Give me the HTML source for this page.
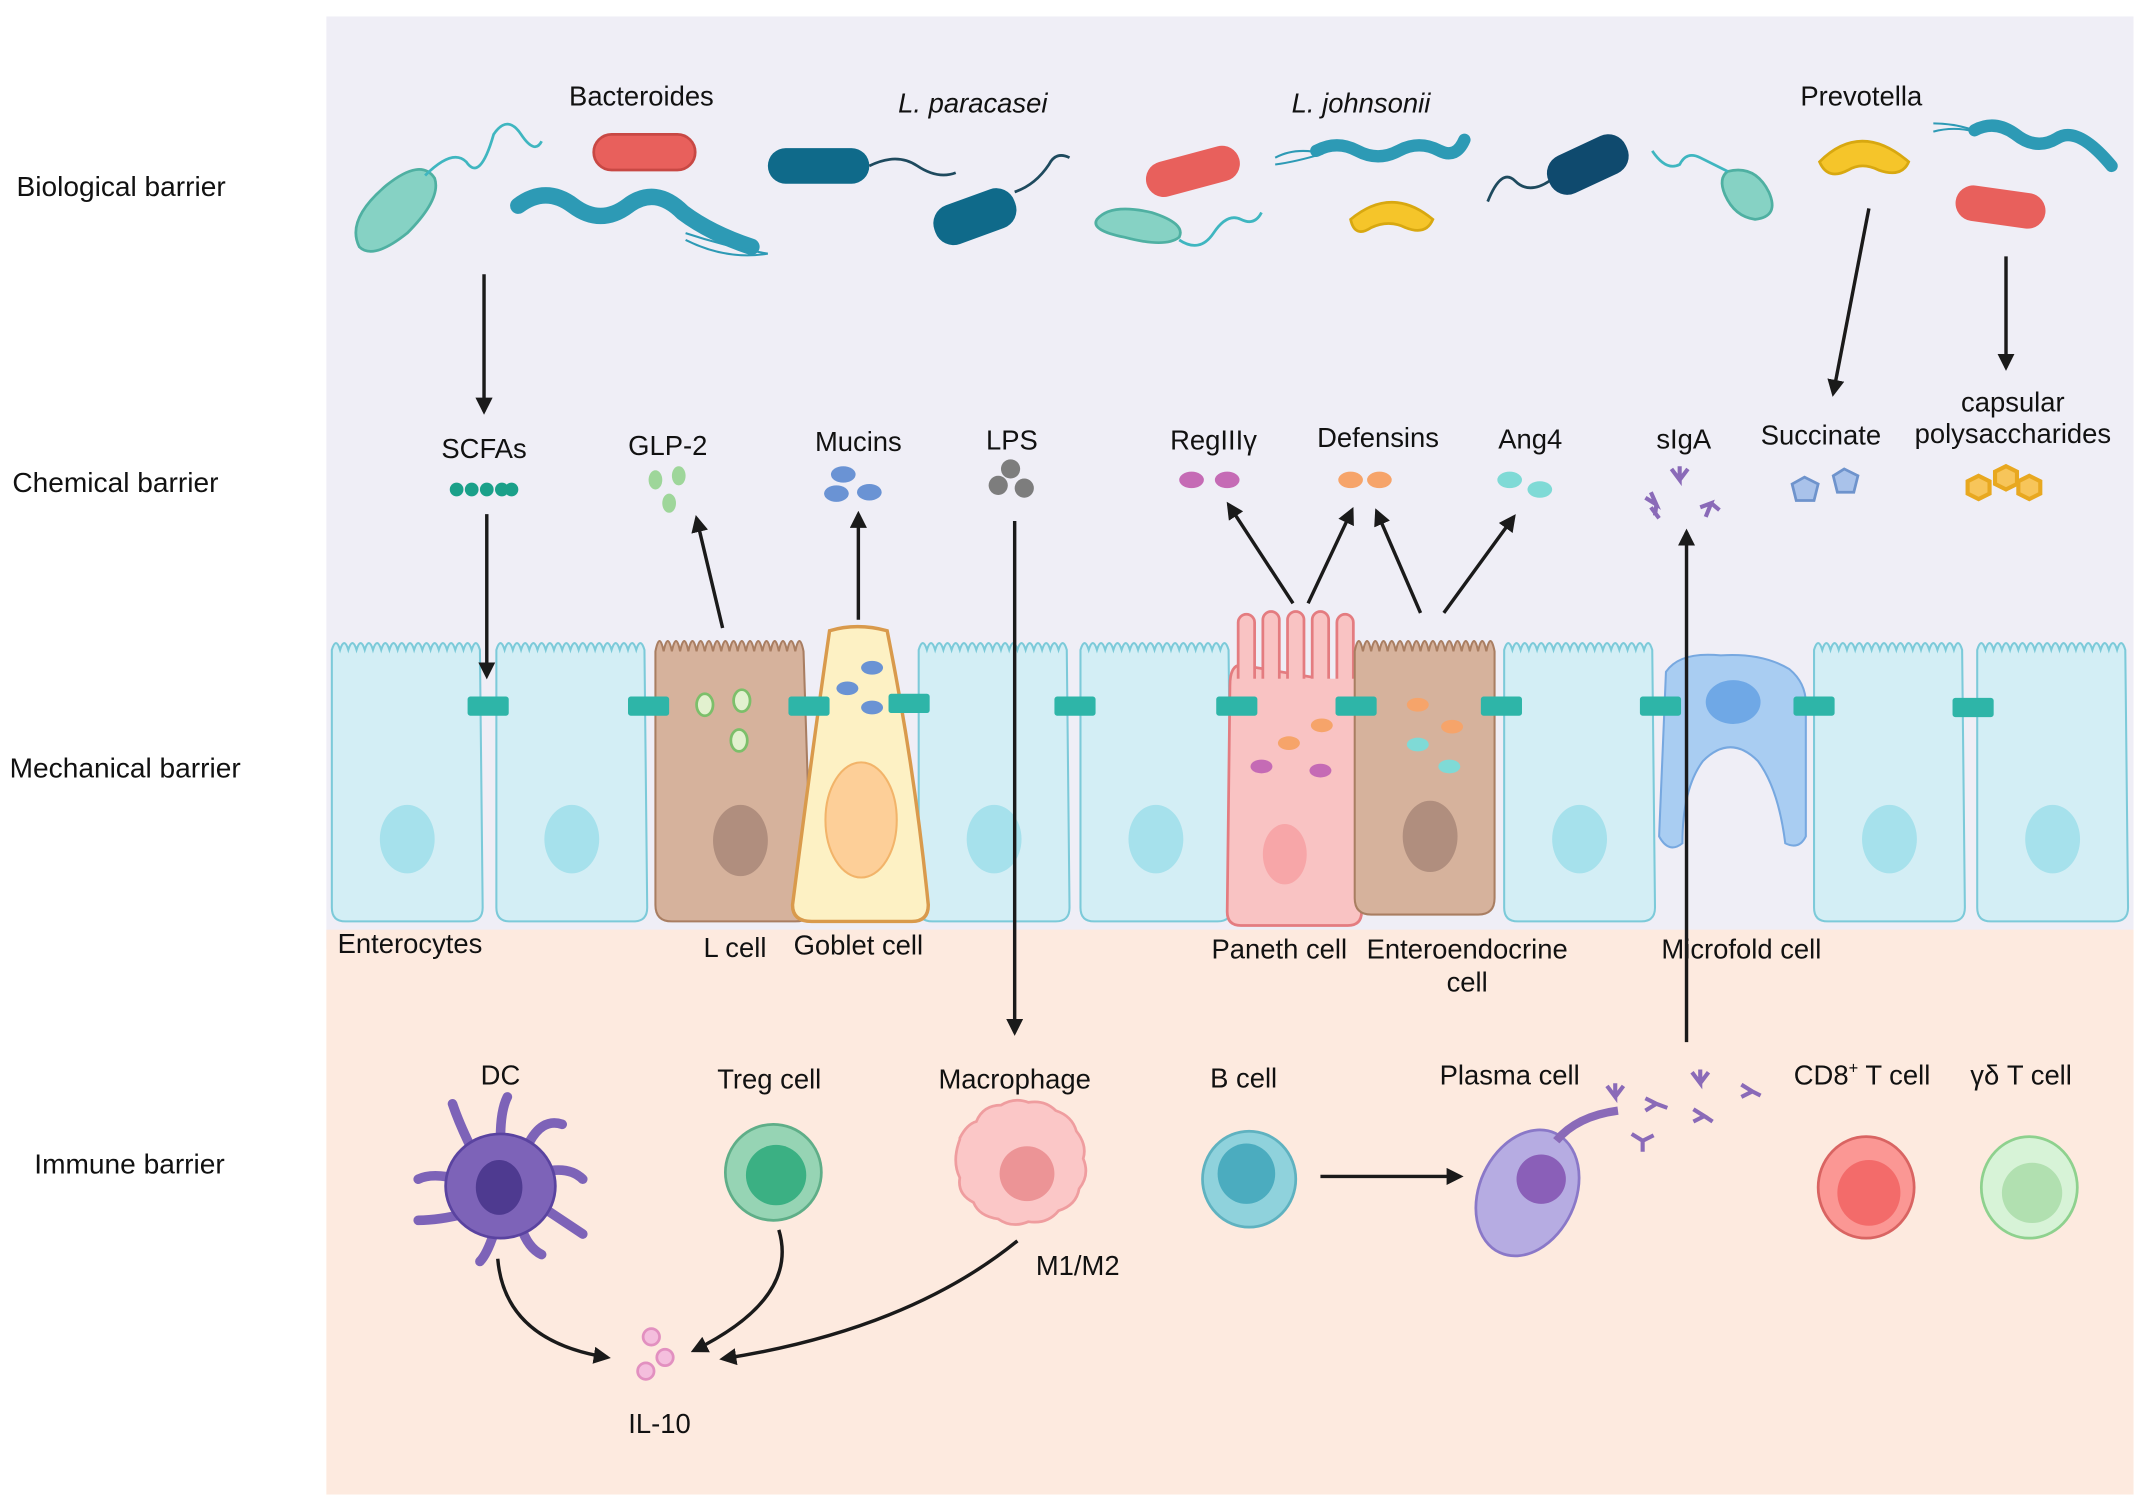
<!DOCTYPE html>
<html><head><meta charset="utf-8"><style>
html,body{margin:0;padding:0;background:#fff}
svg{display:block}
text{font-family:"Liberation Sans",sans-serif;fill:#111}
</style></head><body>
<svg width="2150" height="1511" viewBox="0 0 1568 1102" xmlns="http://www.w3.org/2000/svg">
<defs>
<marker id="ah" viewBox="0 0 10 10" refX="8" refY="5" markerWidth="5" markerHeight="5" orient="auto"><path d="M0,0L10,5L0,10z" fill="#1a1a1a"/></marker>
<g id="ent"><path d="M0,12 q3,-10 6,0 q3,-10 6,0 q3,-10 6,0 q3,-10 6,0 q3,-10 6,0 q3,-10 6,0 q3,-10 6,0 q3,-10 6,0 q3,-10 6,0 q3,-10 6,0 q3,-10 6,0 q3,-10 6,0 q3,-10 6,0 q3,-10 6,0 q3,-10 6,0 q3,-10 6,0 q3,-10 6,0 q3,-10 6,0 L110,200 q0,10 -10,10 L10,210 q-10,0 -10,-10z" fill="#d3eef5" stroke="#7ccad9" stroke-width="1.5"/><ellipse cx="55" cy="150" rx="20" ry="25" fill="#a6e1ec"/></g>
<g id="tj"><rect x="0" y="0" width="30" height="14" rx="2" fill="#2eb5a8"/></g>
</defs>
<rect x="0" y="0" width="1568" height="1102" fill="#fff"/>
<rect x="238" y="12" width="1318" height="680" fill="#efeef6"/>
<rect x="238" y="678" width="1318" height="412" fill="#fdeadf"/>

<g font-size="20.5">
<text x="12" y="143">Biological barrier</text>
<text x="9" y="359">Chemical barrier</text>
<text x="7" y="567">Mechanical barrier</text>
<text x="25" y="856">Immune barrier</text>
</g>

<!-- bacteria -->
<g>
<path d="M262,180 q-10,-20 20,-45 q25,-20 35,-5 q5,15 -20,40 q-25,20 -35,10z" fill="#86d2c4" stroke="#4fb0a2" stroke-width="2"/>
<path d="M310,128 q20,-20 30,-10 q10,15 20,-20 q10,-15 20,0 q10,15 15,5" fill="none" stroke="#3fb6c0" stroke-width="2"/>
<rect x="433" y="98" width="74" height="26" rx="13" fill="#e8605c" stroke="#c84844" stroke-width="2"/>
<path d="M378,150 q20,-15 40,0 q20,15 40,0 q20,-15 40,5 q20,15 50,25" fill="none" stroke="#2d9ab5" stroke-width="12" stroke-linecap="round"/>
<path d="M500,170 q30,10 60,15 M500,175 q30,15 60,10" fill="none" stroke="#2d9ab5" stroke-width="1.5"/>
<rect x="560" y="108" width="74" height="26" rx="13" fill="#0f6a8a"/>
<path d="M634,121 q20,-10 35,0 q15,10 28,5" fill="none" stroke="#1e4a5e" stroke-width="2"/>
<rect x="680" y="143" width="62" height="30" rx="14" fill="#0f6a8a" transform="rotate(-20 711 158)"/>
<path d="M740,140 q15,-5 25,-20 q5,-10 15,-5" fill="none" stroke="#1e4a5e" stroke-width="2"/>
<rect x="835" y="112" width="70" height="26" rx="13" fill="#e8605c" transform="rotate(-15 870 125)"/>
<path d="M800,160 q10,-12 40,-5 q25,8 20,18 q-10,8 -40,0 q-25,-5 -20,-13z" fill="#86d2c4" stroke="#4fb0a2" stroke-width="2"/>
<path d="M860,175 q15,10 25,-5 q10,-15 20,-10 q10,5 15,-5" fill="none" stroke="#3fb6c0" stroke-width="2"/>
<path d="M960,110 q15,-8 30,0 q15,8 30,0 q15,-8 30,0 q12,6 18,-8" fill="none" stroke="#2d9ab5" stroke-width="9" stroke-linecap="round"/>
<path d="M930,115 q15,-8 35,-3 M930,120 q15,-2 35,-8" fill="none" stroke="#2d9ab5" stroke-width="1.5"/>
<path d="M985,160 q30,-25 60,0 q-5,12 -20,6 q-12,-6 -25,0 q-12,8 -15,-6z" fill="#f5c52a" stroke="#d8a810" stroke-width="2"/>
<rect x="1127" y="105" width="62" height="30" rx="14" fill="#0f4a6e" transform="rotate(-25 1158 120)"/>
<path d="M1130,132 q-15,10 -25,0 q-10,-10 -20,15" fill="none" stroke="#1e4a5e" stroke-width="2"/>
<path d="M1260,125 q20,-5 30,15 q8,18 -10,20 q-15,-2 -22,-18 q-5,-12 2,-17z" fill="#86d2c4" stroke="#4fb0a2" stroke-width="2"/>
<path d="M1260,125 q-10,-5 -20,-10 q-10,-5 -15,5 q-10,5 -20,-10" fill="none" stroke="#3fb6c0" stroke-width="2"/>
<path d="M1327,118 q30,-30 65,0 q-5,12 -22,6 q-12,-6 -22,0 q-15,8 -21,-6z" fill="#f5c52a" stroke="#d8a810" stroke-width="2"/>
<path d="M1440,95 q15,-8 30,3 q15,12 30,3 q15,-10 40,20" fill="none" stroke="#2d9ab5" stroke-width="9" stroke-linecap="round"/>
<path d="M1410,90 q15,0 30,5 M1410,96 q15,-4 30,0" fill="none" stroke="#2d9ab5" stroke-width="1.5"/>
<rect x="1426" y="138" width="66" height="26" rx="13" fill="#e8605c" transform="rotate(8 1459 151)"/>
</g>
<g font-size="20">
<text x="415" y="77">Bacteroides</text>
<text x="655" y="82" font-style="italic">L. paracasei</text>
<text x="942" y="82" font-style="italic">L. johnsonii</text>
<text x="1313" y="77">Prevotella</text>
</g>

<!-- chemical -->
<g font-size="20" text-anchor="middle">
<text x="353" y="334">SCFAs</text>
<text x="487" y="332">GLP-2</text>
<text x="626" y="329">Mucins</text>
<text x="738" y="328">LPS</text>
<text x="885" y="328">RegIIIγ</text>
<text x="1005" y="326">Defensins</text>
<text x="1116" y="327">Ang4</text>
<text x="1228" y="327">sIgA</text>
<text x="1328" y="324">Succinate</text>
<text x="1468" y="300">capsular</text>
<text x="1468" y="323">polysaccharides</text>
</g>
<g fill="#1aa089"><circle cx="333" cy="357" r="5"/><circle cx="344" cy="357" r="5"/><circle cx="355" cy="357" r="5"/><circle cx="366" cy="357" r="5"/><circle cx="373" cy="357" r="5"/></g>
<g fill="#9ed69a"><ellipse cx="478" cy="350" rx="5" ry="7"/><ellipse cx="495" cy="347" rx="5" ry="7"/><ellipse cx="488" cy="367" rx="5" ry="7"/></g>
<g fill="#6a93d4"><ellipse cx="615" cy="346" rx="9" ry="6"/><ellipse cx="610" cy="360" rx="9" ry="6"/><ellipse cx="634" cy="359" rx="9" ry="6"/></g>
<g fill="#7d7d7d"><circle cx="737" cy="342" r="7"/><circle cx="728" cy="354" r="7"/><circle cx="747" cy="356" r="7"/></g>
<g fill="#c56bb5"><ellipse cx="869" cy="350" rx="9" ry="6"/><ellipse cx="895" cy="350" rx="9" ry="6"/></g>
<g fill="#f6a46a"><ellipse cx="985" cy="350" rx="9" ry="6"/><ellipse cx="1006" cy="350" rx="9" ry="6"/></g>
<g fill="#7fdad6"><ellipse cx="1101" cy="350" rx="9" ry="6"/><ellipse cx="1123" cy="357" rx="9" ry="6"/></g>
<g stroke="#8a6ab8" stroke-width="3" fill="none"><path d="M1225,340v10l-6,-8M1225,350l6,-8M1200,363l8,5l-4,-9M1208,368l-1,8M1240,370l8,-3l-4,10M1248,367l6,5M1210,378l-6,-8"/></g>
<g fill="#a9c2ea" stroke="#6e93cc" stroke-width="2"><polygon points="1316,348 1326,353 1323,365 1310,365 1307,353"/><polygon points="1345,342 1355,347 1352,359 1340,359 1337,347"/></g>
<g fill="#f7c55a" stroke="#e8a820" stroke-width="3"><polygon points="1443,347 1451,351 1451,360 1443,364 1435,360 1435,351"/><polygon points="1463,340 1471,344 1471,353 1463,357 1455,353 1455,344"/><polygon points="1480,347 1488,351 1488,360 1480,364 1472,360 1472,351"/></g>

<!-- cells -->
<use href="#ent" x="242" y="462"/>
<use href="#ent" x="362" y="462"/>
<use href="#ent" x="670" y="462"/>
<use href="#ent" x="788" y="462"/>
<use href="#ent" x="1097" y="462"/>
<use href="#ent" x="1323" y="462"/>
<use href="#ent" x="1442" y="462"/>
<!-- L cell -->
<path d="M478,475 q3,-15 6,0 q3,-15 6,0 q3,-15 6,0 q3,-15 6,0 q3,-15 6,0 q3,-15 6,0 q3,-15 6,0 q3,-15 6,0 q3,-15 6,0 q3,-15 6,0 q3,-15 6,0 q3,-15 6,0 q3,-15 6,0 q3,-15 6,0 q3,-15 6,0 q3,-15 6,0 q3,-15 6,0 q3,-15 6,0 L592,660 q0,12 -12,12 L490,672 q-12,0 -12,-12z" fill="#d6b29c" stroke="#a97e62" stroke-width="1.5"/>
<ellipse cx="540" cy="613" rx="20" ry="26" fill="#b08e7e"/>
<g fill="#e2f1cf" stroke="#7cbf6a" stroke-width="2"><ellipse cx="514" cy="514" rx="6" ry="8"/><ellipse cx="541" cy="511" rx="6" ry="8"/><ellipse cx="539" cy="540" rx="6" ry="8"/></g>
<!-- goblet -->
<path d="M605,460 q20,-6 42,0 q20,100 30,200 q0,12 -12,12 L592,672 q-14,0 -14,-12 q14,-110 27,-200z" fill="#fdf1c4" stroke="#d99a4c" stroke-width="2.5"/>
<ellipse cx="628" cy="598" rx="26" ry="42" fill="#fdcf98" stroke="#f2b46a" stroke-width="1.5"/>
<g fill="#6a93d4"><ellipse cx="636" cy="487" rx="8" ry="5"/><ellipse cx="618" cy="502" rx="8" ry="5"/><ellipse cx="636" cy="516" rx="8" ry="5"/></g>
<!-- paneth -->
<path d="M897,500 q0,-15 8,-15 L993,500 L993,665 q0,10 -10,10 L905,675 q-10,0 -10,-10z" fill="#f9c3c3" stroke="#e47c80" stroke-width="2"/>
<g fill="#f9c3c3" stroke="#e47c80" stroke-width="2"><rect x="903" y="448" width="12" height="60" rx="6"/><rect x="921" y="446" width="12" height="60" rx="6"/><rect x="939" y="446" width="12" height="60" rx="6"/><rect x="957" y="446" width="12" height="60" rx="6"/><rect x="975" y="448" width="12" height="60" rx="6"/></g>
<rect x="899" y="495" width="92" height="30" fill="#f9c3c3"/>
<ellipse cx="937" cy="623" rx="16" ry="22" fill="#f7a6a8"/>
<g fill="#c56bb5"><ellipse cx="920" cy="559" rx="8" ry="5"/><ellipse cx="963" cy="562" rx="8" ry="5"/></g>
<g fill="#f6a46a"><ellipse cx="940" cy="542" rx="8" ry="5"/><ellipse cx="964" cy="529" rx="8" ry="5"/></g>
<!-- enteroendocrine -->
<path d="M988,475 q3,-15 6,0 q3,-15 6,0 q3,-15 6,0 q3,-15 6,0 q3,-15 6,0 q3,-15 6,0 q3,-15 6,0 q3,-15 6,0 q3,-15 6,0 q3,-15 6,0 q3,-15 6,0 q3,-15 6,0 q3,-15 6,0 q3,-15 6,0 q3,-15 6,0 q3,-15 6,0 q3,-15 6,0 L1090,655 q0,12 -12,12 L1000,667 q-12,0 -12,-12z" fill="#d6b29c" stroke="#a97e62" stroke-width="1.5"/>
<ellipse cx="1043" cy="610" rx="20" ry="26" fill="#b08e7e"/>
<g fill="#f6a46a"><ellipse cx="1034" cy="514" rx="8" ry="5"/><ellipse cx="1059" cy="530" rx="8" ry="5"/></g>
<g fill="#7fdad6"><ellipse cx="1034" cy="543" rx="8" ry="5"/><ellipse cx="1057" cy="559" rx="8" ry="5"/></g>
<!-- microfold -->
<path d="M1215,490 q10,-15 40,-12 q30,-2 50,10 q12,10 12,25 L1317,610 q-5,10 -15,5 q-5,-40 -20,-60 q-20,-20 -40,0 q-15,20 -15,60 q-10,8 -17,-5z" fill="#a9cdf2" stroke="#77a8e0" stroke-width="1.5"/>
<ellipse cx="1264" cy="512" rx="20" ry="16" fill="#6fa8e6"/>
<!-- tight junctions -->
<use href="#tj" x="341" y="508"/><use href="#tj" x="458" y="508"/><use href="#tj" x="575" y="508"/><use href="#tj" x="648" y="506"/><use href="#tj" x="769" y="508"/><use href="#tj" x="887" y="508"/><use href="#tj" x="974" y="508"/><use href="#tj" x="1080" y="508"/><use href="#tj" x="1196" y="508"/><use href="#tj" x="1308" y="508"/><use href="#tj" x="1424" y="509"/>

<g font-size="20" text-anchor="middle">
<text x="299" y="695">Enterocytes</text>
<text x="536" y="698">L cell</text>
<text x="626" y="696">Goblet cell</text>
<text x="933" y="699">Paneth cell</text>
<text x="1070" y="699">Enteroendocrine</text>
<text x="1070" y="723">cell</text>
<text x="1270" y="699">Microfold cell</text>
</g>

<!-- arrows -->
<g stroke="#1a1a1a" stroke-width="2.5" fill="none" marker-end="url(#ah)">
<path d="M353,200V300"/>
<path d="M355,375V493"/>
<path d="M527,458L508,378"/>
<path d="M626,452V375"/>
<path d="M740,380V753"/>
<path d="M943,440L896,368"/>
<path d="M954,440L986,372"/>
<path d="M1036,447L1004,373"/>
<path d="M1053,447L1104,377"/>
<path d="M1230,760V388"/>
<path d="M1363,152L1337,287"/>
<path d="M1463,187V268"/>
<path d="M963,858H1065"/>
<path d="M363,918q5,60 80,72"/>
<path d="M568,897q15,50 -62,88"/>
<path d="M742,905q-80,65 -215,86"/>
</g>

<!-- immune -->
<g font-size="20" text-anchor="middle">
<text x="365" y="791">DC</text>
<text x="561" y="794">Treg cell</text>
<text x="740" y="794">Macrophage</text>
<text x="907" y="793">B cell</text>
<text x="1101" y="791">Plasma cell</text>
<text x="1358" y="791">CD8<tspan font-size="12" dy="-8">+</tspan><tspan dy="8"> T cell</tspan></text>
<text x="1474" y="791">γδ T cell</text>
<text x="786" y="930">M1/M2</text>
<text x="481" y="1045">IL-10</text>
</g>
<!-- DC -->
<g stroke="#7d63b8" stroke-width="7" stroke-linecap="round" fill="none">
<path d="M345,840 q-10,-20 -15,-35 M365,830 q0,-20 5,-30 M385,835 q10,-20 25,-15 M395,855 q20,-5 30,5 M395,880 q15,10 30,20 M380,895 q5,15 15,20 M360,900 q-5,15 -10,20 M340,885 q-20,5 -35,5 M335,860 q-20,-5 -30,0"/>
</g>
<ellipse cx="365" cy="865" rx="40" ry="38" fill="#7d63b8" stroke="#5a43a0" stroke-width="2"/>
<ellipse cx="364" cy="866" rx="17" ry="20" fill="#4e3a90"/>
<!-- Treg -->
<circle cx="564" cy="855" r="35" fill="#96d4b4" stroke="#5fae88" stroke-width="2"/><circle cx="566" cy="857" r="22" fill="#3bb083"/>
<!-- Macrophage -->
<path d="M700,830 q5,-10 12,-12 q5,-12 18,-12 q10,-6 20,-2 q12,-2 20,6 q12,4 15,15 q8,10 5,20 q5,12 -3,22 q-2,12 -15,16 q-8,10 -22,8 q-12,5 -22,-2 q-14,-2 -18,-12 q-12,-6 -10,-18 q-6,-12 0,-28z" fill="#fbc7c7" stroke="#ef9d9f" stroke-width="2"/>
<circle cx="749" cy="856" r="20" fill="#ec9496"/>
<!-- B -->
<ellipse cx="911" cy="860" rx="34" ry="35" fill="#8fd2dc" stroke="#5fb2c0" stroke-width="2"/><ellipse cx="909" cy="856" rx="21" ry="22" fill="#4bacbf"/>
<!-- plasma -->
<ellipse cx="1114" cy="870" rx="35" ry="48" transform="rotate(25 1114 870)" fill="#b6ace2" stroke="#8a78c8" stroke-width="2"/>
<circle cx="1124" cy="860" r="18" fill="#8a5fb8"/>
<path d="M1135,832 q15,-18 45,-22" stroke="#8a6ab8" stroke-width="6" fill="none"/>
<g stroke="#8a6ab8" stroke-width="3" fill="none"><path d="M1178,790v10l-6,-8M1178,800l6,-8M1200,810l8,-5l-8,-4M1208,805l8,3M1240,780v10l-6,-8M1240,790l6,-8M1235,818l8,-4l-8,-5M1243,814l6,4M1198,832l-8,-5M1198,832l8,-4M1198,832v8M1270,800l8,-4l-8,-5M1278,796l6,3"/></g>
<!-- CD8 / gd -->
<ellipse cx="1361" cy="866" rx="35" ry="37" fill="#fb9794" stroke="#d96462" stroke-width="2"/><ellipse cx="1363" cy="870" rx="23" ry="24" fill="#f36b6a"/>
<ellipse cx="1480" cy="866" rx="35" ry="37" fill="#d7f3d7" stroke="#8ed18e" stroke-width="2"/><ellipse cx="1482" cy="870" rx="22" ry="22" fill="#b1e0b0"/>
<!-- IL-10 -->
<g fill="#f4bedd" stroke="#e290c0" stroke-width="2"><circle cx="475" cy="975" r="6"/><circle cx="485" cy="990" r="6"/><circle cx="471" cy="1000" r="6"/></g>
</svg>
</body></html>
